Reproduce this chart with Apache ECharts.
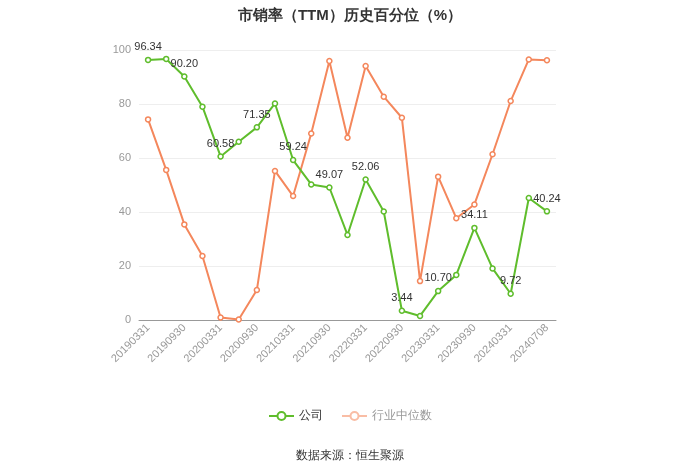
<!DOCTYPE html>
<html>
<head>
<meta charset="utf-8">
<script src="https://cdn.jsdelivr.net/npm/echarts@6/dist/echarts.min.js"></script>
<style>html,body{margin:0;padding:0;background:#fff}#c{width:700px;height:474px}</style>
</head>
<body>
<div id="c"></div>
<script>
const categories = ['20190331','20190630','20190930','20191231','20200331','20200630','20200930','20201231','20210331','20210630','20210930','20211231','20220331','20220630','20220930','20221231','20230331','20230630','20230930','20231231','20240331','20240630','20240708'];
const companyValues = [96.34,96.7,90.20,79.0,60.58,66.0,71.35,80.2,59.24,50.2,49.07,31.5,52.06,40.2,3.44,1.5,10.70,16.7,34.11,19.1,9.72,45.2,40.24];
const industryValues = [74.3,55.6,35.4,23.7,0.9,0.2,11.1,55.2,45.9,69.1,95.9,67.5,94.1,82.7,74.9,14.4,53.1,37.7,42.8,61.4,81.1,96.5,96.2];
const yTicks = [0,20,40,60,80,100];

const GREEN = '#5fbd2c';
const ORANGE = '#f4875c';
const chart = echarts.init(document.getElementById('c'));
chart.setOption({
  animation: false,
  title: {
    text: '市销率（TTM）历史百分位（%）',
    left: 'center', top: 3,
    textStyle: {fontSize: 15, fontWeight: 'bold', color: '#333'}
  },
  legend: {
    bottom: 47, left: 'center',
    itemWidth: 25, itemHeight: 10, itemGap: 18,
    textStyle: {fontSize: 12, color: '#333'},
    data: [
      {name: '公司'},
      {name: '行业中位数', textStyle: {color: '#999'}, itemStyle: {color: '#fff', borderColor: '#f9bda5'}, lineStyle: {color: '#f9bda5'}}
    ]
  },
  graphic: [{
    type: 'text', left: 'center', top: 450,
    style: {text: '数据来源：恒生聚源', fontSize: 12, fill: '#333'}
  }],
  grid: {left: 139, right: 144, top: 50, bottom: 154},
  xAxis: {
    type: 'category',
    data: categories,
    boundaryGap: true,
    axisLine: {lineStyle: {color: '#999'}},
    axisTick: {alignWithLabel: true, interval: 1, lineStyle: {color: '#999'}},
    axisLabel: {interval: 1, rotate: 45, fontSize: 11, color: '#999', margin: 6}
  },
  yAxis: {
    type: 'value', min: yTicks[0], max: yTicks[yTicks.length-1], interval: 20,
    axisLine: {show: false}, axisTick: {show: false},
    axisLabel: {fontSize: 11, color: '#999', margin: 8},
    splitLine: {lineStyle: {color: '#eee'}}
  },
  series: [
    {
      name: '公司', type: 'line', data: companyValues,
      color: GREEN,
      symbol: 'circle', symbolSize: 5, showAllSymbol: true,
      itemStyle: {color: '#fff', borderColor: GREEN, borderWidth: 1.5},
      lineStyle: {color: GREEN, width: 2},
      label: {
        show: true, position: 'top', fontSize: 11, color: '#333', distance: 4,
        formatter: p => (p.dataIndex % 2 === 0) ? p.value.toFixed(2) : ''
      },
      z: 3
    },
    {
      name: '行业中位数', type: 'line', data: industryValues,
      color: ORANGE,
      symbol: 'circle', symbolSize: 5, showAllSymbol: true,
      itemStyle: {color: '#fff', borderColor: ORANGE, borderWidth: 1.5},
      lineStyle: {color: ORANGE, width: 2},
      z: 2
    }
  ]
});
</script>
</body>
</html>
